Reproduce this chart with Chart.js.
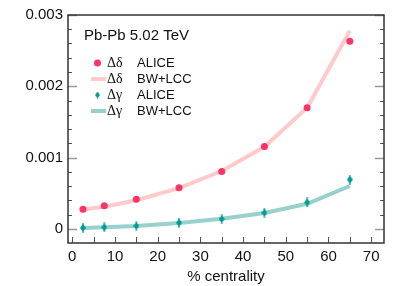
<!DOCTYPE html>
<html>
<head>
<meta charset="utf-8">
<script src="https://cdn.jsdelivr.net/npm/chart.js@4.4.1/dist/chart.umd.min.js"></script>
<style>
  html, body { margin: 0; padding: 0; background: #fff; }
  #wrap { width: 397px; height: 286px; position: relative; }
</style>
</head>
<body>
<div id="wrap"><canvas id="chart"></canvas></div>
<script>
// centrality bins (%)
const centrality = [2.5, 7.5, 15, 25, 35, 45, 55, 65];

// ALICE data
const deltaAlice = [0.000273, 0.000324, 0.000414, 0.000577, 0.000803, 0.001155, 0.0017, 0.00263];
const gammaAlice = [0.000014, 0.00002, 0.00004, 0.000085, 0.000137, 0.000225, 0.00037, 0.00069];

// BW+LCC model
const deltaModel = [0.00027, 0.00031, 0.0004, 0.00057, 0.00081, 0.00115, 0.0017, 0.00278];
const gammaModel = [0.00001, 0.00002, 0.00004, 0.00008, 0.00014, 0.00022, 0.00035, 0.0006];

const xTicks = [0, 10, 20, 30, 40, 50, 60, 70];
const yTicks = [0, 0.001, 0.002, 0.003];

const RED = "#ff3366";
const PINK = "#ffcaca";
const TEAL = "#009c94";
const TEAL_LIGHT = "#98d0cc";

function makeDiamond(w, h, stem) {
  const c = document.createElement("canvas");
  c.width = w; c.height = h + 2 * stem;
  const g = c.getContext("2d");
  const cx = w / 2;
  g.strokeStyle = TEAL;
  g.lineWidth = 1.2;
  if (stem > 0) {
    g.beginPath(); g.moveTo(cx, 0); g.lineTo(cx, h + 2 * stem); g.stroke();
  }
  g.fillStyle = TEAL;
  g.beginPath();
  g.moveTo(cx, stem); g.lineTo(w, stem + h / 2); g.lineTo(cx, stem + h); g.lineTo(0, stem + h / 2);
  g.closePath(); g.fill();
  return c;
}
const diamond = makeDiamond(6, 8, 1);
const legendDiamond = makeDiamond(5, 7, 0);

const pts = ys => centrality.map((x, i) => ({ x, y: ys[i] }));

// frame, inward ticks and legend
const decor = {
  id: "decor",
  afterDraw(chart) {
    const { ctx, chartArea: a, scales: { x, y } } = chart;
    ctx.save();
    // minor/major ticks on left and right
    for (let k = 0; k <= 15; k++) {
      const v = k * 0.0002;
      const py = Math.round(y.getPixelForValue(v)) + 0.5;
      if (py > a.bottom - 1) continue;
      const major = k % 5 === 0;
      ctx.strokeStyle = major ? "#999" : "#555";
      ctx.lineWidth = major ? 1.5 : 1;
      const len = major ? 9 : 4;
      ctx.beginPath();
      ctx.moveTo(a.left, py); ctx.lineTo(a.left + len, py);
      ctx.moveTo(a.right, py); ctx.lineTo(a.right - len, py);
      ctx.stroke();
    }
    // bottom ticks
    ctx.strokeStyle = "#555";
    ctx.lineWidth = 1;
    for (let v = 0; v <= 70; v += 5) {
      const px = Math.round(x.getPixelForValue(v)) + 0.5;
      ctx.beginPath();
      ctx.moveTo(px, a.bottom); ctx.lineTo(px, a.bottom - 6);
      ctx.stroke();
    }
    // frame
    ctx.strokeStyle = "#333";
    ctx.lineWidth = 1.5;
    ctx.strokeRect(a.left, a.top, a.right - a.left, a.bottom - a.top);

    // legend
    ctx.fillStyle = "#111";
    ctx.textBaseline = "middle";
    ctx.font = "15px 'Liberation Sans', Arial, sans-serif";
    ctx.fillText("Pb-Pb 5.02 TeV", 84, 36);

    const rows = [
      { y: 63, sym: "Δδ", label: "ALICE", kind: "dot" },
      { y: 79, sym: "Δδ", label: "BW+LCC", kind: "pink" },
      { y: 95, sym: "Δγ", label: "ALICE", kind: "diamond" },
      { y: 111, sym: "Δγ", label: "BW+LCC", kind: "teal" }
    ];
    rows.forEach(r => {
      if (r.kind === "dot") {
        ctx.fillStyle = RED;
        ctx.beginPath(); ctx.arc(97.5, r.y, 3.5, 0, Math.PI * 2); ctx.fill();
      } else if (r.kind === "diamond") {
        ctx.drawImage(legendDiamond, 95, r.y - 3.5);
      } else {
        ctx.strokeStyle = r.kind === "pink" ? PINK : TEAL_LIGHT;
        ctx.lineWidth = 4;
        ctx.beginPath(); ctx.moveTo(91, r.y); ctx.lineTo(106, r.y); ctx.stroke();
      }
      ctx.fillStyle = "#111";
      ctx.font = "14px 'Liberation Serif', 'DejaVu Serif', serif";
      ctx.fillText(r.sym, 107, r.y);
      ctx.font = "13px 'Liberation Sans', Arial, sans-serif";
      ctx.fillText(r.label, 137, r.y);
    });
    ctx.restore();
  }
};

new Chart(document.getElementById("chart"), {
  type: "scatter",
  data: {
    datasets: [
      {
        type: "line", data: pts(deltaModel), borderColor: PINK, borderWidth: 4,
        pointRadius: 0, tension: 0, fill: false, order: 4
      },
      {
        type: "line", data: pts(gammaModel), borderColor: TEAL_LIGHT, borderWidth: 4,
        pointRadius: 0, tension: 0, fill: false, order: 3
      },
      {
        data: pts(deltaAlice), backgroundColor: RED, borderColor: RED,
        pointRadius: 3.5, borderWidth: 0, order: 2
      },
      {
        data: pts(gammaAlice), pointStyle: diamond, backgroundColor: TEAL,
        pointRadius: 5, order: 1
      }
    ]
  },
  options: {
    responsive: true,
    maintainAspectRatio: false,
    animation: false,
    layout: { padding: { top: 15, right: 13, left: 0, bottom: 0 } },
    plugins: { legend: { display: false }, tooltip: { enabled: false } },
    scales: {
      x: {
        type: "linear", min: -1, max: 73,
        grid: { display: false, drawTicks: false },
        border: { display: false },
        afterBuildTicks: s => { s.ticks = xTicks.map(v => ({ value: v })); },
        afterFit: s => { s.height = 43; },
        ticks: {
          color: "#111", padding: 5, maxRotation: 0,
          font: { family: "'Liberation Sans', Arial, sans-serif", size: 15 }
        },
        title: {
          display: true, text: "% centrality", color: "#111", padding: { top: 1, bottom: 0 },
          font: { family: "'Liberation Sans', Arial, sans-serif", size: 15 }
        }
      },
      y: {
        type: "linear", min: -0.0002, max: 0.003,
        grid: { display: false, drawTicks: false },
        border: { display: false },
        afterBuildTicks: s => { s.ticks = yTicks.map(v => ({ value: v })); },
        afterFit: s => { s.width = 68; },
        ticks: {
          color: "#111", padding: 5,
          font: { family: "'Liberation Sans', Arial, sans-serif", size: 15 },
          callback: v => v === 0 ? "0" : v.toFixed(3)
        }
      }
    }
  },
  plugins: [decor]
});
</script>
</body>
</html>
